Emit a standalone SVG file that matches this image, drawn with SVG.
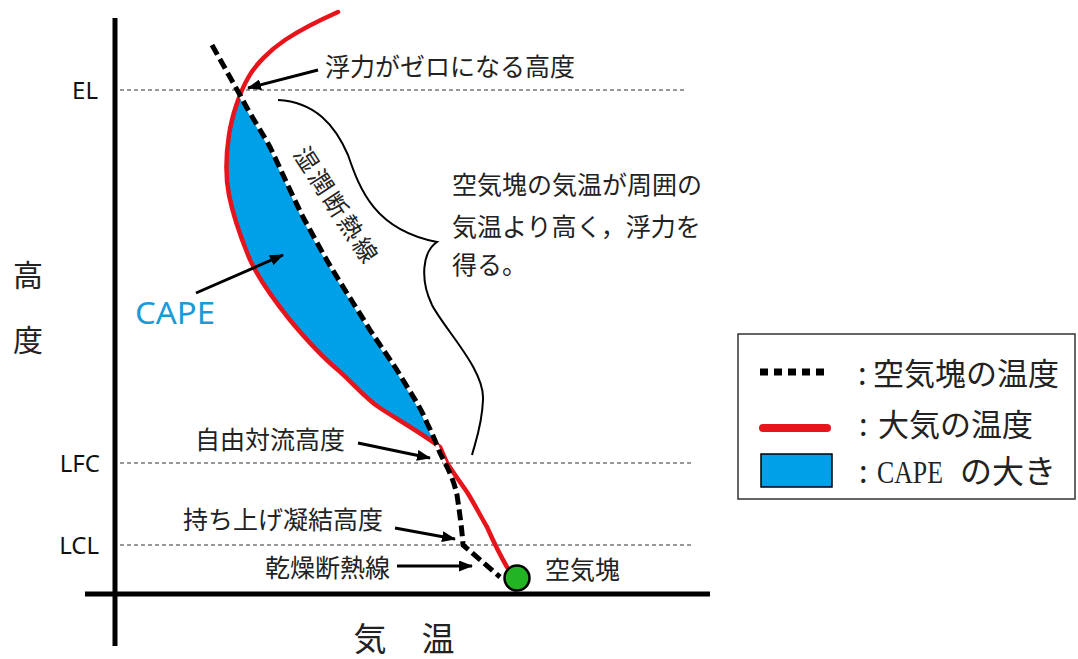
<svg xmlns="http://www.w3.org/2000/svg" width="1078" height="659" viewBox="0 0 1078 659">
<style>
.jp{font-family:"Noto Sans CJK JP","Noto Sans",sans-serif;fill:#222}
.lab{font-family:"Noto Sans","Liberation Sans",sans-serif;font-size:24px;fill:#111;text-anchor:end}
.ref{stroke:#333;stroke-width:1.2;stroke-dasharray:4 3;fill:none}
.axis{stroke:#000;stroke-width:5;fill:none}
.arr{stroke:#000;stroke-width:3;fill:none;marker-end:url(#ah)}
.red{stroke:#e8141c;stroke-width:4.5;fill:none;stroke-linejoin:round;stroke-linecap:round}
.parcel{stroke:#000;stroke-width:5;fill:none;stroke-dasharray:11 5;stroke-linejoin:round}
</style>
<defs>
<marker id="ah" markerUnits="userSpaceOnUse" markerWidth="14" markerHeight="11" refX="13" refY="5.5" orient="auto">
<path d="M0,0 L14,5.5 L0,11 z" fill="#000"/>
</marker>
</defs>
<rect width="1078" height="659" fill="#fff"/>

<g id="axes">
<line class="axis" x1="115" y1="18" x2="115" y2="646"/>
<line class="axis" x1="85" y1="594" x2="710" y2="594"/>
<text class="jp" x="28" y="286" font-size="30" text-anchor="middle">高</text>
<text class="jp" x="28" y="351" font-size="30" text-anchor="middle">度</text>
<text class="jp" x="370" y="651" font-size="33" text-anchor="middle">気</text>
<text class="jp" x="438" y="651" font-size="33" text-anchor="middle">温</text>
</g>

<g id="levels">
<line class="ref" x1="120" y1="90" x2="686" y2="90"/>
<line class="ref" x1="120" y1="463" x2="692" y2="463"/>
<line class="ref" x1="120" y1="545" x2="692" y2="545"/>
<text class="lab" x="98" y="99">EL</text>
<text class="lab" x="100" y="472">LFC</text>
<text class="lab" x="99" y="554">LCL</text>
</g>

<g id="cape-area">
<path d="M240,95 C252,118 262,132 270,147 C282,172 292,195 303,217 C314,237 325,258 337,277 C348,295 359,312 370,330 C381,347 393,363 403,380 C412,395 421,408 427,423 C433,435 437,445 440,453 L445,463 L440,447 C430,440 420,432 410,427 C395,418 380,408 370,400 C355,388 345,378 338,370 C320,355 305,338 290,320 C270,295 256,275 248,255 C240,235 233,215 229,195 C225,175 226,155 229,135 C232,115 236,104 240,95 Z" fill="#00a0e9"/>
</g>

<g id="curves">
<path class="red" d="M338,12 C320,20 300,30 285,40 C270,50 255,65 248,78 C240,92 232,115 229,135 C226,155 225,175 229,195 C233,215 240,235 248,255 C256,275 270,295 290,320 C305,338 320,355 338,370 C352,382 365,398 380,408 C395,418 420,432 440,447 L447,463 C455,475 462,485 467,492 C475,505 480,515 487,527 C495,545 500,555 507,567"/>
<path d="M212,45 L240,95 C252,118 262,132 270,147 C282,172 292,195 303,217 C314,237 325,258 337,277 C348,295 359,312 370,330 C381,347 393,363 403,380 C412,395 421,408 427,423 C433,435 437,445 440,453 L445,463" stroke="#fff" stroke-width="3" fill="none"/>
<path class="parcel" d="M212,45 L240,95 C252,118 262,132 270,147 C282,172 292,195 303,217 C314,237 325,258 337,277 C348,295 359,312 370,330 C381,347 393,363 403,380 C412,395 421,408 427,423 C433,435 437,445 440,453 L445,463 C450,472 455,485 457,495 C460,515 462,530 463,545 L500,577"/>
<circle cx="517" cy="578" r="12.5" fill="#22b422" stroke="#000" stroke-width="2.5"/>
</g>

<g id="brace">
<path d="M278,100 C315,102 335,125 348,155 C360,190 375,230 437,242 C422,252 420,280 432,305 C445,330 485,370 483,400 C482,425 476,440 472,455" stroke="#000" stroke-width="2" fill="none"/>
<text class="jp" font-size="25"><tspan x="452" y="194">空気塊の気温が周囲の</tspan><tspan x="452" y="236">気温より高く，浮力を</tspan><tspan x="452" y="274">得る。</tspan></text>
</g>

<g id="connectors">
<line class="arr" x1="318" y1="70" x2="248" y2="88"/>
<line class="arr" x1="196" y1="293" x2="283" y2="255"/>
<line class="arr" x1="358" y1="443" x2="430" y2="458"/>
<line class="arr" x1="395" y1="528" x2="455" y2="539"/>
<line class="arr" x1="397" y1="566" x2="472" y2="566"/>
</g>

<g id="labels">
<text class="jp" x="325" y="76" font-size="25">浮力がゼロになる高度</text>
<text class="jp" font-size="24" text-anchor="middle" dominant-baseline="central" letter-spacing="3" transform="translate(338,205) rotate(57)">湿潤断熱線</text>
<text x="135" y="324" font-family="Noto Sans,Open Sans,sans-serif" font-size="30" fill="#1a9bd7" textLength="80" lengthAdjust="spacingAndGlyphs">CAPE</text>
<text class="jp" x="195" y="449" font-size="25">自由対流高度</text>
<text class="jp" x="183" y="529" font-size="25">持ち上げ凝結高度</text>
<text class="jp" x="265" y="577" font-size="25">乾燥断熱線</text>
<text class="jp" x="545" y="579" font-size="25">空気塊</text>
</g>

<g id="legend">
<rect x="738" y="334" width="337" height="165" fill="#fff" stroke="#333" stroke-width="1.5"/>
<line x1="760" y1="372" x2="830" y2="372" stroke="#000" stroke-width="7" stroke-dasharray="8 6"/>
<line x1="763" y1="428" x2="827" y2="428" stroke="#e8141c" stroke-width="8" stroke-linecap="round"/>
<rect x="761" y="454" width="71" height="33" fill="#00a0e9" stroke="#000" stroke-width="1.5"/>
<text class="jp" x="858" y="385" font-size="31">:</text>
<text class="jp" x="873" y="385" font-size="31">空気塊の温度</text>
<text class="jp" x="859" y="436" font-size="31">:</text>
<text class="jp" x="878" y="436" font-size="31">大気の温度</text>
<text class="jp" x="859" y="483" font-size="31">:</text>
<text x="877" y="483" font-family="Liberation Serif,serif" font-size="32" fill="#222" textLength="66" lengthAdjust="spacingAndGlyphs">CAPE</text>
<text class="jp" x="960" y="483" font-size="32">の大き</text>
</g>
</svg>
